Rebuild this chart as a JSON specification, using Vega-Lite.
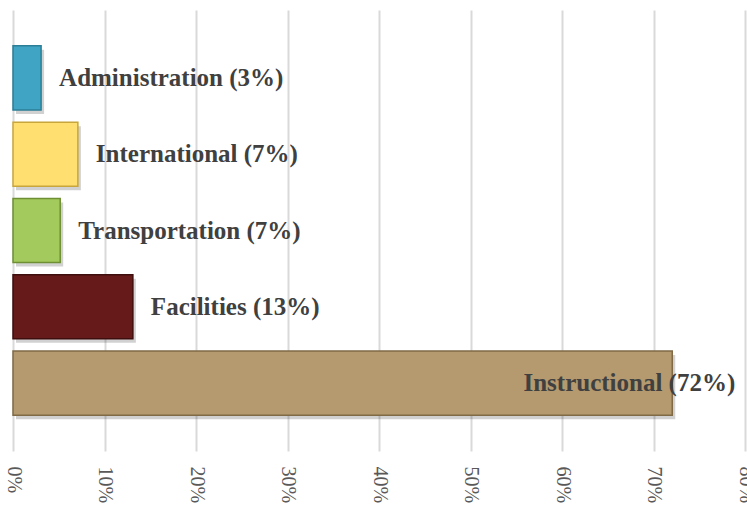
{
  "$schema": "https://vega.github.io/schema/vega-lite/v6.json",
  "width": 732,
  "height": 441,
  "autosize": {"type": "none"},
  "padding": {"left": 13, "top": 10, "right": 2, "bottom": 54},
  "background": "white",
  "config": {"view": {"stroke": null}},
  "data": {
    "values": [
      {"category": "Administration", "pct": 3.07, "label": "Administration (3%)"},
      {"category": "International", "pct": 7.09, "label": "International (7%)"},
      {"category": "Transportation", "pct": 5.16, "label": "Transportation (7%)"},
      {"category": "Facilities", "pct": 13.1, "label": "Facilities (13%)"},
      {"category": "Instructional", "pct": 72.05, "label": "Instructional (72%)"}
    ]
  },
  "encoding": {
    "y": {
      "field": "category",
      "type": "nominal",
      "sort": ["Administration", "International", "Transportation", "Facilities", "Instructional"],
      "scale": {"paddingInner": 0.16, "paddingOuter": 0.47},
      "axis": null
    },
    "x": {
      "field": "pct",
      "type": "quantitative",
      "scale": {"domain": [0, 80], "nice": false},
      "axis": {
        "title": null,
        "values": [0, 10, 20, 30, 40, 50, 60, 70, 80],
        "labelExpr": "datum.value + '%'",
        "labelAngle": 90,
        "labelFont": "Liberation Serif",
        "labelFontSize": 20,
        "labelColor": "#595959",
        "labelPadding": 15,
        "labelOverlap": false,
        "labelFlush": false,
        "labelBound": false,
        "ticks": false,
        "domain": false,
        "grid": true,
        "gridColor": "#D9D9D9",
        "gridWidth": 2
      }
    }
  },
  "layer": [
    {
      "mark": {"type": "bar", "color": "#000000", "opacity": 0.18, "xOffset": 3, "yOffset": 4}
    },
    {
      "mark": {"type": "bar", "strokeWidth": 1.5},
      "encoding": {
        "color": {
          "field": "category",
          "type": "nominal",
          "legend": null,
          "scale": {
            "domain": ["Administration", "International", "Transportation", "Facilities", "Instructional"],
            "range": ["#40A5C4", "#FFDF70", "#A3CA5C", "#661A1A", "#B49A6E"]
          }
        },
        "stroke": {
          "field": "category",
          "type": "nominal",
          "legend": null,
          "scale": {
            "domain": ["Administration", "International", "Transportation", "Facilities", "Instructional"],
            "range": ["#2A7E96", "#C9A63C", "#6E8F33", "#3E0D0D", "#7F6A45"]
          }
        }
      }
    },
    {
      "transform": [{"filter": "datum.pct < 50"}],
      "mark": {
        "type": "text",
        "align": "left",
        "baseline": "middle",
        "dx": 18,
        "font": "Liberation Serif",
        "fontSize": 25,
        "fontWeight": "bold",
        "color": "#404040"
      },
      "encoding": {"text": {"field": "label"}}
    },
    {
      "transform": [{"filter": "datum.pct >= 50"}],
      "mark": {
        "type": "text",
        "align": "right",
        "baseline": "middle",
        "dx": 63,
        "font": "Liberation Serif",
        "fontSize": 25,
        "fontWeight": "bold",
        "color": "#404040"
      },
      "encoding": {"text": {"field": "label"}}
    }
  ]
}
